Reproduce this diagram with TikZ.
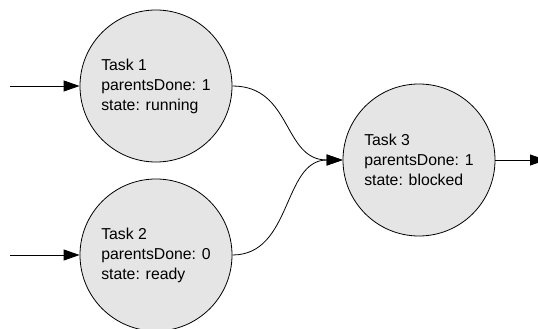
\documentclass[tikz,border=0pt]{standalone}
\usepackage{fontspec}
\setmainfont{Liberation Sans}
\usetikzlibrary{arrows.meta}
\begin{document}
\begin{tikzpicture}[x=1pt,y=-1pt,
  task/.style={circle,draw=black,line width=0.8pt,fill=gray!20,minimum size=152pt,inner sep=0pt,
    align=left,font=\fontsize{15.8}{20}\selectfont},
  conn/.style={draw=black,line width=0.8pt,-{Triangle[length=16pt,width=11pt]}}]
\useasboundingbox (0,0) rectangle (538,329);
\node[task] (t1) at (156,86) {Task 1\\parentsDone: 1\\state: running};
\node[task] (t2) at (156,255) {Task 2\\parentsDone: 0\\state: ready};
\node[task] (t3) at (419,160) {Task 3\\parentsDone: 1\\state: blocked};
\coordinate (in1) at (10,86);
\coordinate (in2) at (10,255);
\coordinate (out3) at (546,160);
\draw[conn] (in1) -- (t1);
\draw[conn] (in2) -- (t2);
\draw[conn] (t3) -- (out3);
\draw[conn] (t1.east) .. controls +(60,0) and +(-60,0) .. (t3.west);
\draw[conn] (t2.east) .. controls +(60,0) and +(-60,0) .. (t3.west);
\end{tikzpicture}
\end{document}
